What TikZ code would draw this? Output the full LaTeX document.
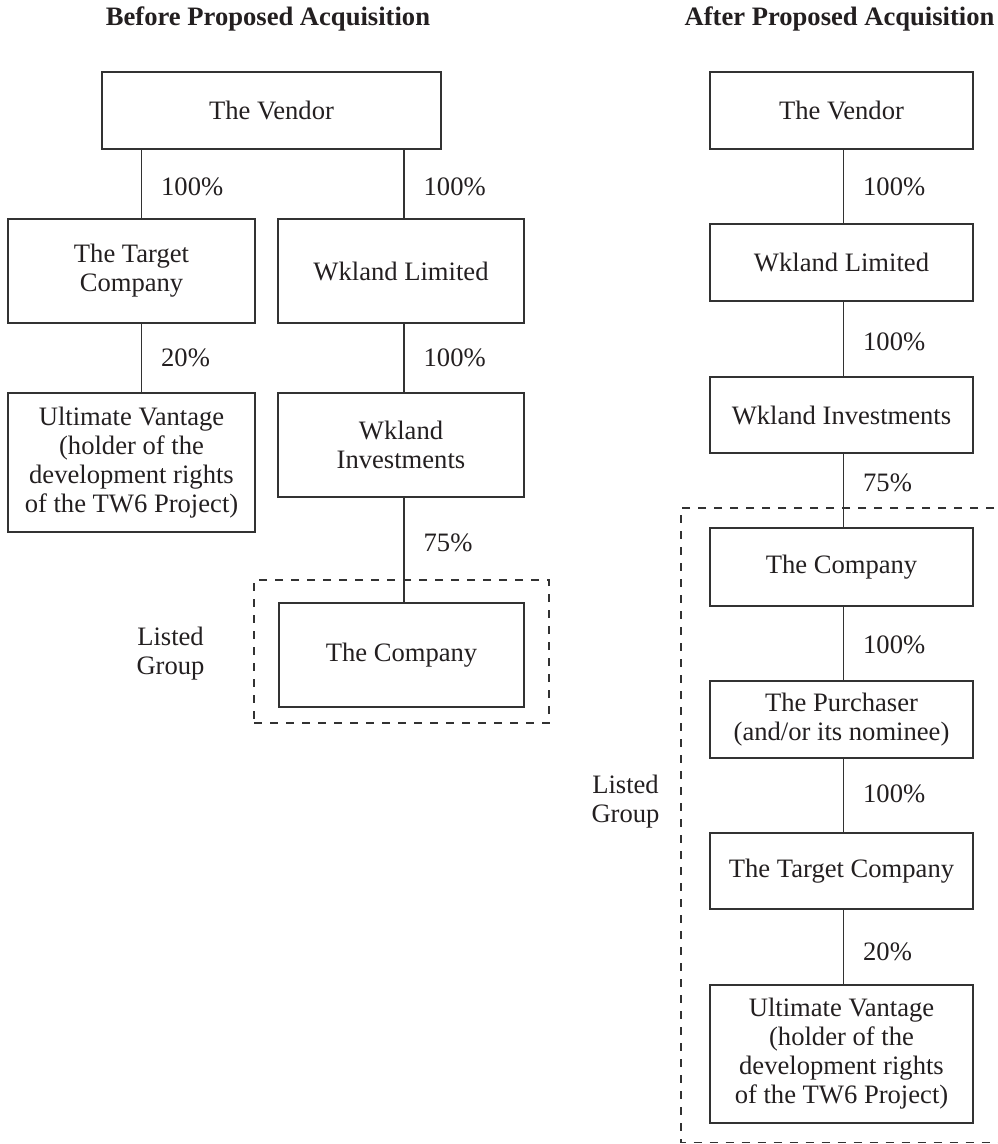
\documentclass[tikz,border=0pt]{standalone}
\usepackage{fontspec}
\setmainfont{Liberation Serif}
\definecolor{tcol}{RGB}{35,31,32}
\definecolor{lcol}{RGB}{50,50,50}
\begin{document}
\begin{tikzpicture}[x=1pt,y=-1pt,
  txt/.style={font=\fontsize{26.6}{29}\selectfont, text=tcol},
  box/.style={draw=lcol, line width=1.3pt, txt, align=center, inner sep=2pt},
  pct/.style={txt, anchor=west, inner sep=0pt, xshift=19pt},
  ttl/.style={font=\bfseries\fontsize{26.6}{29}\selectfont, text=tcol, anchor=base, inner sep=0pt},
  conn/.style={draw=lcol, line width=1.3pt},
  grp/.style={draw=lcol, line width=1.2pt, dash pattern=on 8pt off 8pt},
  lbl/.style={txt, align=center, inner sep=0pt}]
\useasboundingbox (0,0) rectangle (998,1144);

% titles
\node[ttl] (titleL) at (268,25) {Before Proposed Acquisition};
\node[ttl] (titleR) at (839.5,25) {After Proposed Acquisition};

% ---------- left ----------
\node[box, minimum width=339pt, minimum height=77pt] (vendL) at (271.5,110.5) {The Vendor};
\node[box, minimum width=247pt, minimum height=104pt] (tgtL) at (131.5,271) {The Target\\Company};
\node[box, minimum width=246pt, minimum height=104pt] (wlL) at (401,271) {Wkland Limited};
\node[box, minimum width=247pt, minimum height=139pt] (uvL) at (131.5,462.5) {Ultimate Vantage\\(holder of the\\development rights\\of the TW6 Project)};
\node[box, minimum width=246pt, minimum height=104pt] (wiL) at (401,445) {Wkland\\Investments};
\node[grp, minimum width=295pt, minimum height=143pt, inner sep=0pt] (grpL) at (401.5,651.5) {};
\node[box, minimum width=245pt, minimum height=104pt] (coL) at (401.5,655) {The Company};
\node[lbl] (listL) at (170.5,654) {Listed\\Group};

\draw[conn] ([xshift=10pt]tgtL.north) -- node[pct,pos=0.46]{100\%} ([xshift=10pt]tgtL.north |- vendL.south);
\draw[conn] ([xshift=3pt]wlL.north) -- node[pct,pos=0.46]{100\%} ([xshift=3pt]wlL.north |- vendL.south);
\draw[conn] ([xshift=10pt]uvL.north) -- node[pct,pos=0.5]{20\%} ([xshift=10pt]uvL.north |- tgtL.south);
\draw[conn] ([xshift=3pt]wiL.north) -- node[pct,pos=0.5]{100\%} ([xshift=3pt]wiL.north |- wlL.south);
\draw[conn] ([xshift=2.5pt]coL.north) -- node[pct,pos=0.566]{75\%} ([xshift=2.5pt]coL.north |- wiL.south);

% ---------- right ----------
\node[box, minimum width=263pt, minimum height=77pt] (vendR) at (841.5,110.5) {The Vendor};
\node[box, minimum width=263pt, minimum height=77pt] (wlR) at (841.5,262.5) {Wkland Limited};
\node[box, minimum width=263pt, minimum height=76pt] (wiR) at (841.5,415) {Wkland Investments};
\node[box, minimum width=263pt, minimum height=78pt] (coR) at (841.5,567) {The Company};
\node[box, minimum width=263pt, minimum height=77pt] (puR) at (841.5,719.5) {The Purchaser\\(and/or its nominee)};
\node[box, minimum width=263pt, minimum height=76pt] (tgR) at (841.5,871) {The Target Company};
\node[box, minimum width=263pt, minimum height=138pt] (uvR) at (841.5,1054) {Ultimate Vantage\\(holder of the\\development rights\\of the TW6 Project)};
\node[lbl] (listR) at (625.5,802) {Listed\\Group};

\draw[grp] (1010,508) -- (681,508) -- (681,1142.5) -- (1010,1142.5);

\draw[conn] ([xshift=2pt]wlR.north) -- node[pct,pos=0.49]{100\%} ([xshift=2pt]vendR.south);
\draw[conn] ([xshift=2pt]wiR.north) -- node[pct,pos=0.46]{100\%} ([xshift=2pt]wlR.south);
\draw[conn] ([xshift=2pt]coR.north) -- node[pct,pos=0.61]{75\%} ([xshift=2pt]wiR.south);
\draw[conn] ([xshift=2pt]puR.north) -- node[pct,pos=0.48]{100\%} ([xshift=2pt]coR.south);
\draw[conn] ([xshift=2pt]tgR.north) -- node[pct,pos=0.52]{100\%} ([xshift=2pt]puR.south);
\draw[conn] ([xshift=2pt]uvR.north) -- node[pct,pos=0.43]{20\%} ([xshift=2pt]tgR.south);
\end{tikzpicture}
\end{document}
